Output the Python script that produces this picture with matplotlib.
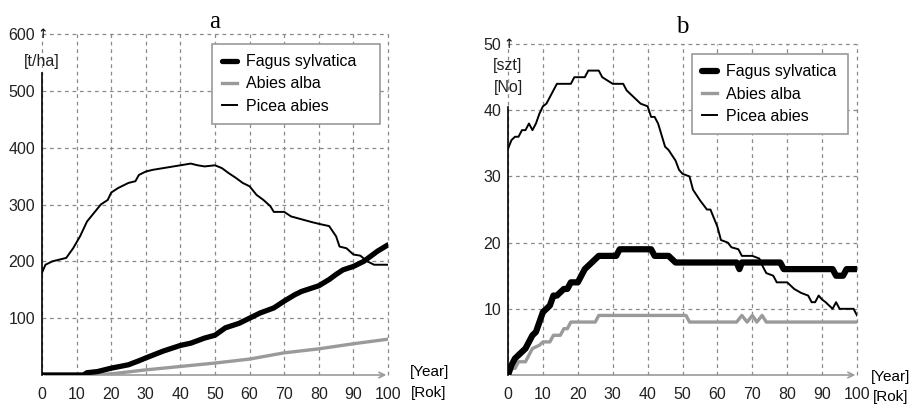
import matplotlib
matplotlib.use('Agg')
import matplotlib.pyplot as plt

plt.rcParams['font.family'] = ['Liberation Sans', 'DejaVu Sans']

# biomasa [t/ha]
a_picea_x = [0, 1, 3, 7, 9, 11, 13, 15, 17, 19, 20, 22, 25, 27, 28, 30, 32, 35, 40, 43, 45, 47, 50,
             52, 54, 56, 58, 60, 62, 64, 66, 67, 70, 72, 75, 78, 80, 83, 85, 86, 88, 90, 92, 94, 96, 100]
a_picea_y = [180, 194, 200, 206, 223, 244, 270, 285, 300, 308, 321, 329, 338, 341, 352, 358, 361, 364,
             369, 372, 369, 367, 369, 364, 355, 347, 338, 332, 317, 308, 297, 287, 287, 279, 274, 269,
             266, 262, 244, 226, 223, 212, 210, 200, 194, 194]
a_fagus_x = [0, 12, 13, 16, 20, 25, 28, 30, 35, 40, 43, 47, 50, 53, 57, 60, 63, 67, 70, 73, 75, 78,
             80, 83, 85, 87, 90, 93, 95, 97, 100]
a_fagus_y = [0, 0, 4, 6, 12, 18, 25, 30, 42, 52, 56, 65, 70, 83, 91, 100, 109, 118, 130, 141, 147,
             153, 157, 168, 177, 185, 191, 200, 209, 218, 229]
a_abies_x = [0, 14, 20, 30, 40, 50, 60, 70, 80, 90, 95, 100]
a_abies_y = [0, 0, 2, 9, 15, 21, 28, 39, 46, 55, 59, 63]

# liczba drzew [szt]
b_picea_x = [0, 1, 2, 3, 4, 5, 6, 7, 8, 9, 10, 11, 12, 13, 14, 18, 19, 22, 23, 26, 27, 30, 33, 34,
             36, 38, 40, 41, 42, 43, 45, 46, 48, 49, 50, 52, 53, 55, 57, 58, 60, 61, 63, 64, 66, 67,
             70, 72, 73, 74, 76, 77, 80, 82, 84, 86, 87, 88, 89, 90, 91, 93, 94, 95, 99, 100]
b_picea_y = [34.2, 35.5, 36, 36, 37, 37, 38, 37, 38, 39.5, 40.6, 41, 42, 43, 44, 44, 45, 45, 46, 46,
             45, 44, 44, 43, 42, 41, 40.6, 39, 39, 38, 34.5, 34, 32.4, 31, 30.4, 30, 28, 26.4, 25, 25,
             22.4, 20.4, 20, 19.3, 19, 18, 18, 17.6, 16.4, 15.4, 15, 14, 14, 13, 12.4, 12, 11, 11,
             12, 11.4, 11, 10, 11, 10, 10, 9]
b_fagus_x = [0, 1, 2, 3, 4, 5, 6, 7, 8, 9, 10, 11, 12, 13, 14, 15, 16, 17, 18, 20, 21, 22, 23, 24,
             25, 26, 31, 32, 41, 42, 46, 48, 65.5, 66.3, 67, 78, 79, 93, 94, 96, 97, 100]
b_fagus_y = [0, 1.5, 2.5, 3, 3.5, 4, 5, 6, 6.5, 8, 9.5, 10, 10.5, 12, 12, 12.5, 13, 13, 14, 14, 15,
             16, 16.5, 17, 17.5, 18, 18, 19, 19, 18, 18, 17, 17, 16, 17, 17, 16, 16, 15, 15, 16, 16]
b_abies_x = [0, 1, 2, 3, 5, 6, 7, 9, 10, 12, 13, 15, 16, 17, 18, 25, 26, 51, 52, 65.5, 67, 68.5,
             70, 71.3, 72.8, 74, 100]
b_abies_y = [0, 1, 1, 2, 2, 3, 4, 4.5, 5, 5, 6, 6, 7, 7, 8, 8, 9, 9, 8, 8, 9, 8, 9, 8, 9, 8, 8]

x_ticks = list(range(0, 101, 10))
a_yticks = [100, 200, 300, 400, 500, 600]
b_yticks = [10, 20, 30, 40, 50]
labels = ['Fagus sylvatica', 'Abies alba', 'Picea abies']

fig = plt.figure(figsize=(9.17, 4.04), dpi=100)
ax_a = fig.add_axes([0.0458, 0.0718, 0.3773, 0.844])
ax_b = fig.add_axes([0.554, 0.0718, 0.3806, 0.819])


def styl(ax, ymax, yticks, spine_top, unit_lines, unit_y, leg_box, year_pos):
    ax.set_xlim(0, 100)
    ax.set_ylim(0, ymax)
    ax.set_xticks(x_ticks)
    ax.set_yticks(yticks)
    ax.tick_params(length=0, labelsize=11.5, colors='#222222')
    ax.tick_params(axis='x', pad=9)
    ax.tick_params(axis='y', pad=5)
    ax.grid(True, color='#8a8a8a', linestyle=(0, (3, 3)), linewidth=0.9)
    for g in ax.get_xgridlines() + ax.get_ygridlines():
        g.set_clip_on(False)
    ax.spines['top'].set_visible(False)
    ax.spines['right'].set_visible(False)
    ax.spines['bottom'].set_visible(False)
    ax.spines['left'].set_bounds(0, spine_top)
    ax.spines['left'].set_linewidth(1.2)
    # strzalki osi
    ax.annotate('', xy=(100.3, 0), xytext=(0, 0),
                arrowprops=dict(arrowstyle='->', color='#9a9a9a', lw=1.2), annotation_clip=False)
    ax.text(0.3, ymax, '↑', fontsize=9, ha='center', va='center', family='DejaVu Sans')
    for i, t in enumerate(unit_lines):
        ax.text(0, unit_y[i], t, fontsize=11.5, ha='center', va='center', color='#222222')
    xp, y1, y2 = year_pos
    ax.text(xp, y1, '[Year]', transform=ax.transAxes, fontsize=11, ha='left', va='center')
    ax.text(xp + 0.005, y2, '[Rok]', transform=ax.transAxes, fontsize=11, ha='left', va='center')
    leg = ax.legend(labels, loc='upper left', bbox_to_anchor=leg_box, mode='expand',
                    fontsize=11.5, handlelength=0.9, handletextpad=0.6, labelspacing=0.45,
                    borderpad=0.65, fancybox=False, framealpha=1, edgecolor='#9a9a9a',
                    borderaxespad=0)
    leg.get_frame().set_linewidth(1.2)


# wykres a
ax_a.plot(a_fagus_x, a_fagus_y, color='black', lw=3.8, solid_capstyle='round', zorder=4)
ax_a.plot(a_abies_x, a_abies_y, color='#9a9a9a', lw=2.4, zorder=3)
ax_a.plot(a_picea_x, a_picea_y, color='black', lw=1.4, zorder=5)
styl(ax_a, 600, a_yticks, 532, ['[t/ha]'], [551], (0.491, 0.971, 0.486, 0), (1.062, 0.009, -0.053))
ax_a.set_title('a', family='Liberation Serif', fontsize=18, pad=4)

# wykres b
ax_b.plot(b_fagus_x, b_fagus_y, color='black', lw=4.5, solid_capstyle='round', zorder=4)
ax_b.plot(b_abies_x, b_abies_y, color='#9a9a9a', lw=2.4, zorder=3)
ax_b.plot(b_picea_x, b_picea_y, color='black', lw=1.4, zorder=5)
styl(ax_b, 50, b_yticks, 40.5, ['[szt]', '[No]'], [46.7, 43.5], (0.527, 0.970, 0.447, 0), (1.04, -0.006, -0.066))
ax_b.set_title('b', family='Liberation Serif', fontsize=18, pad=8)

fig.savefig('out.png', dpi=100)
